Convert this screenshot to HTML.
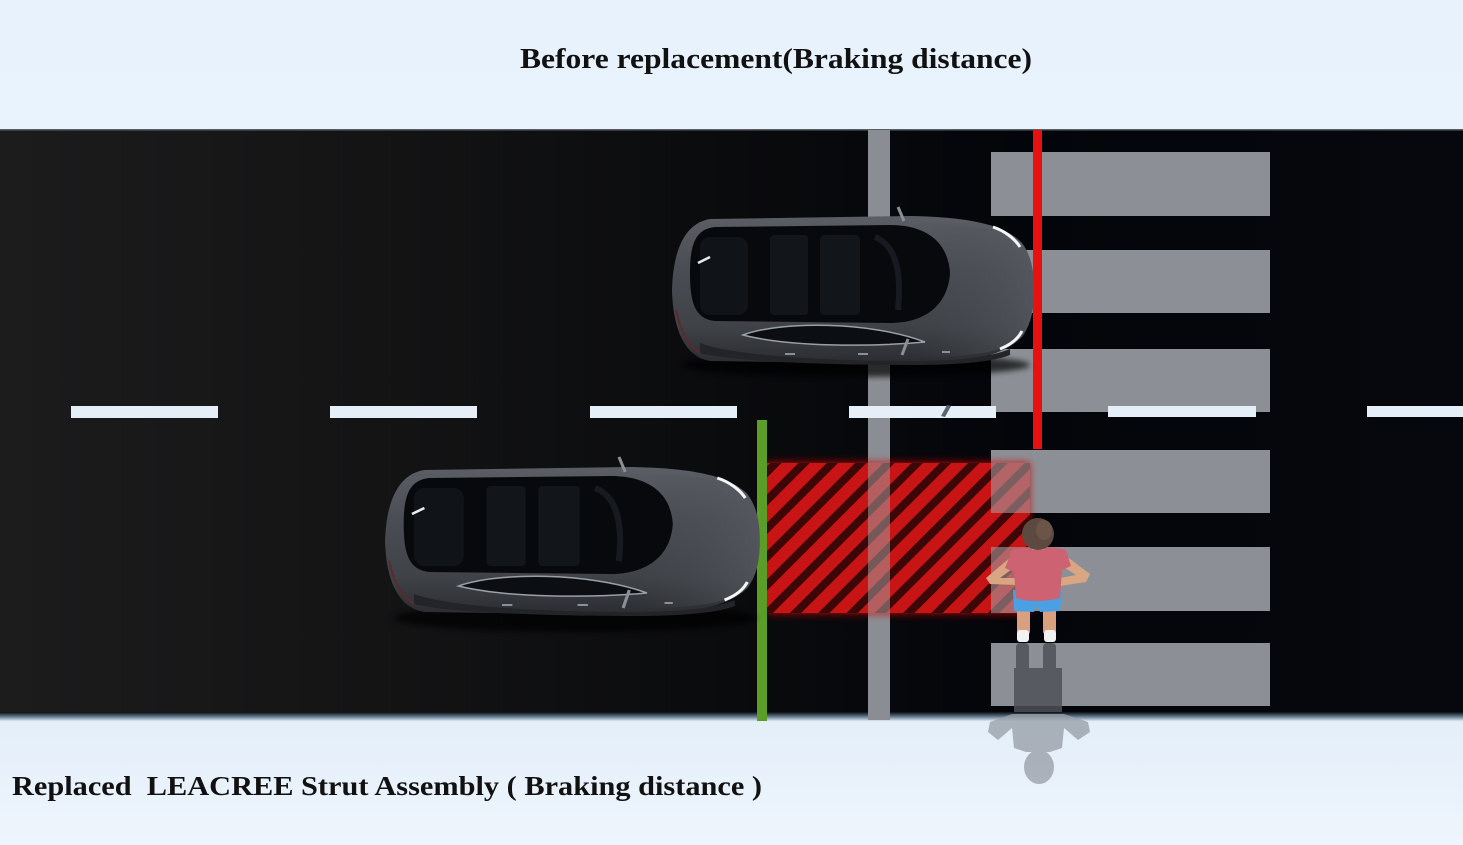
<!DOCTYPE html>
<html>
<head>
<meta charset="utf-8">
<style>
  html,body{margin:0;padding:0;background:#e9f3fd;}
  body{width:1463px;height:845px;overflow:hidden;}
  svg{display:block;}
</style>
</head>
<body>
<svg width="1463" height="845" viewBox="0 0 1463 845" xmlns="http://www.w3.org/2000/svg">
  <defs>
    <linearGradient id="sky" x1="0" y1="0" x2="0" y2="1">
      <stop offset="0" stop-color="#e8f2fc"/>
      <stop offset="1" stop-color="#e9f3fd"/>
    </linearGradient>
    <linearGradient id="ground" x1="0" y1="0" x2="0" y2="1">
      <stop offset="0" stop-color="#e3eef9"/>
      <stop offset="1" stop-color="#eef5fd"/>
    </linearGradient>
    <linearGradient id="road" x1="0" y1="0" x2="1" y2="0">
      <stop offset="0" stop-color="#1c1c1d"/>
      <stop offset="0.25" stop-color="#141415"/>
      <stop offset="0.5" stop-color="#0a0b0d"/>
      <stop offset="0.7" stop-color="#03050a"/>
      <stop offset="1" stop-color="#06080d"/>
    </linearGradient>
    <linearGradient id="roadEdge" x1="0" y1="0" x2="0" y2="1">
      <stop offset="0" stop-color="#0a0d12"/>
      <stop offset="0.5" stop-color="#5f7789"/>
      <stop offset="1" stop-color="#d9e6f2"/>
    </linearGradient>
    <linearGradient id="body" x1="0" y1="0" x2="0" y2="1">
      <stop offset="0" stop-color="#5b5f65"/>
      <stop offset="0.35" stop-color="#4a4e54"/>
      <stop offset="0.75" stop-color="#3f4247"/>
      <stop offset="1" stop-color="#2a2c30"/>
    </linearGradient>
    <linearGradient id="hood" x1="0" y1="0" x2="1" y2="0">
      <stop offset="0" stop-color="#44484e" stop-opacity="0"/>
      <stop offset="1" stop-color="#5a5e64" stop-opacity="0.6"/>
    </linearGradient>
    <pattern id="hatch" patternUnits="userSpaceOnUse" width="20" height="20" patternTransform="rotate(45)">
      <rect x="0" y="0" width="20" height="20" fill="#3e0707"/>
      <rect x="0" y="0" width="12" height="20" fill="#c81414"/>
    </pattern>
    <filter id="glow" x="-20%" y="-20%" width="140%" height="140%">
      <feGaussianBlur stdDeviation="4"/>
    </filter>
    <filter id="soft" x="-20%" y="-20%" width="140%" height="140%">
      <feGaussianBlur stdDeviation="3"/>
    </filter>
  </defs>

  <!-- background -->
  <rect x="0" y="0" width="1463" height="132" fill="url(#sky)"/>
  <rect x="0" y="712" width="1463" height="133" fill="url(#ground)"/>

  <!-- road -->
  <rect x="0" y="130" width="1463" height="584" fill="url(#road)"/>
  <rect x="0" y="129" width="1463" height="1.5" fill="#5a5e63"/>
  <rect x="0" y="712" width="1463" height="9" fill="url(#roadEdge)"/>

  <!-- gray vertical stop stripe -->
  <rect x="868" y="130" width="22" height="590" fill="#8a8e94"/>

  <!-- crosswalk -->
  <g fill="#8c9096">
    <rect x="991" y="152" width="279" height="64"/>
    <rect x="991" y="250" width="279" height="63"/>
    <rect x="991" y="349" width="279" height="63"/>
    <rect x="991" y="450" width="279" height="63"/>
    <rect x="991" y="547" width="279" height="64"/>
    <rect x="991" y="643" width="279" height="63"/>
  </g>

  <!-- lane dashes (on top of markings) -->
  <g fill="#e6eef8">
    <rect x="71" y="406" width="147" height="12"/>
    <rect x="330" y="406" width="147" height="12"/>
    <rect x="590" y="406" width="147" height="12"/>
    <rect x="849" y="406" width="147" height="12"/>
    <rect x="1108" y="406" width="148" height="11"/>
    <rect x="1367" y="406" width="96" height="11"/>
  </g>
  <path d="M941,416 L947,405 L951,406 L945,417 Z" fill="#5a6470"/>

  <!-- hatched braking zone -->
  <rect x="767" y="462" width="263" height="152" fill="#d01010" opacity="0.75" filter="url(#glow)"/>
  <rect x="767" y="463" width="263" height="150" fill="url(#hatch)"/>
  <rect x="868" y="463" width="22" height="150" fill="#a49a9c" opacity="0.55"/>
  <rect x="991" y="463" width="39" height="50" fill="#a49a9c" opacity="0.6"/>
  <rect x="991" y="547" width="39" height="66" fill="#a49a9c" opacity="0.6"/>

  <!-- red line -->
  <rect x="1033" y="130" width="9" height="319" fill="#e81010"/>
  <!-- green line -->
  <rect x="757" y="420" width="10" height="301" fill="#5a9e28"/>

  <!-- TOP CAR -->
  <g transform="translate(670,215)">
    <ellipse cx="185" cy="150" rx="175" ry="12" fill="#000" opacity="0.7" filter="url(#soft)"/>
    <path d="M40,4 C15,8 3,35 2,75 C3,115 15,142 40,146 L240,149 C300,148 335,140 352,122 C362,108 364,92 364,75 C364,58 362,42 352,28 C335,10 300,2 240,1 Z" fill="url(#body)"/>
    <path d="M240,8 C300,8 335,14 352,28 C362,42 364,58 364,75 C364,92 362,108 352,122 C335,138 300,142 240,142 Z" fill="url(#hood)"/>
    <path d="M30,128 C60,140 150,146 240,146 C290,146 320,142 340,134 L340,140 C320,148 280,150 240,150 C150,150 60,146 30,138 Z" fill="#222428"/>
    <path d="M45,12 C25,14 20,30 20,58 C20,88 25,104 45,106 L220,108 C255,108 278,90 280,58 C278,26 255,10 220,10 Z" fill="#07090c"/>
    <rect x="30" y="22" width="48" height="78" rx="10" fill="#101318"/>
    <rect x="100" y="20" width="38" height="80" rx="4" fill="#12151a"/>
    <rect x="150" y="20" width="40" height="80" rx="4" fill="#12151a"/>
    <path d="M205,22 C225,30 232,55 228,95" stroke="#171b21" stroke-width="6" fill="none"/>
    <path d="M73,120 C110,106 200,106 255,127 C200,132 120,132 73,120 Z" fill="#0c0e12" stroke="#9aa0a8" stroke-width="1.5"/>
    <path d="M323,12 C335,16 345,24 350,32" stroke="#f4f6f8" stroke-width="3" fill="none"/>
    <path d="M330,134 C340,130 348,124 352,116" stroke="#f4f6f8" stroke-width="3" fill="none"/>
    <path d="M28,48 L40,42" stroke="#e8ecf0" stroke-width="2.5"/>
    <path d="M6,95 C10,115 18,130 30,138" stroke="#5a2a2e" stroke-width="2" fill="none"/>
    <path d="M228,-8 L234,6" stroke="#8a9096" stroke-width="3"/>
    <path d="M238,124 L232,140" stroke="#8a9096" stroke-width="3"/>
    <g fill="#8a9096"><rect x="115" y="138" width="10" height="2"/><rect x="188" y="138" width="10" height="2"/><rect x="272" y="136" width="8" height="2"/></g>
  </g>

  <!-- BOTTOM CAR -->
  <g transform="translate(383,466) scale(1.035,1)">
    <ellipse cx="185" cy="152" rx="175" ry="14" fill="#000" opacity="0.7" filter="url(#soft)"/>
    <path d="M40,4 C15,8 3,35 2,75 C3,115 15,142 40,146 L240,149 C300,148 335,140 352,122 C362,108 364,92 364,75 C364,58 362,42 352,28 C335,10 300,2 240,1 Z" fill="url(#body)"/>
    <path d="M240,8 C300,8 335,14 352,28 C362,42 364,58 364,75 C364,92 362,108 352,122 C335,138 300,142 240,142 Z" fill="url(#hood)"/>
    <path d="M30,128 C60,140 150,146 240,146 C290,146 320,142 340,134 L340,140 C320,148 280,150 240,150 C150,150 60,146 30,138 Z" fill="#222428"/>
    <path d="M45,12 C25,14 20,30 20,58 C20,88 25,104 45,106 L220,108 C255,108 278,90 280,58 C278,26 255,10 220,10 Z" fill="#07090c"/>
    <rect x="30" y="22" width="48" height="78" rx="10" fill="#101318"/>
    <rect x="100" y="20" width="38" height="80" rx="4" fill="#12151a"/>
    <rect x="150" y="20" width="40" height="80" rx="4" fill="#12151a"/>
    <path d="M205,22 C225,30 232,55 228,95" stroke="#171b21" stroke-width="6" fill="none"/>
    <path d="M73,120 C110,106 200,106 255,127 C200,132 120,132 73,120 Z" fill="#0c0e12" stroke="#9aa0a8" stroke-width="1.5"/>
    <path d="M323,12 C335,16 345,24 350,32" stroke="#f4f6f8" stroke-width="3" fill="none"/>
    <path d="M330,134 C340,130 348,124 352,116" stroke="#f4f6f8" stroke-width="3" fill="none"/>
    <path d="M28,48 L40,42" stroke="#e8ecf0" stroke-width="2.5"/>
    <path d="M6,95 C10,115 18,130 30,138" stroke="#5a2a2e" stroke-width="2" fill="none"/>
    <path d="M228,-9 L234,6" stroke="#8a9096" stroke-width="3"/>
    <path d="M238,124 L232,142" stroke="#8a9096" stroke-width="3"/>
    <g fill="#8a9096"><rect x="115" y="138" width="10" height="2"/><rect x="188" y="138" width="10" height="2"/><rect x="272" y="136" width="8" height="2"/></g>
  </g>

  <!-- pedestrian shadow -->
  <g fill="#4e5258" opacity="0.85">
    <rect x="1016" y="643" width="13" height="30" rx="4"/>
    <rect x="1043" y="643" width="13" height="30" rx="4"/>
    <path d="M1014,668 L1062,668 L1062,712 L1014,712 Z"/>
  </g>
  <g fill="#9aa1aa" opacity="0.8">
    <path d="M1012,714 L1064,714 L1088,722 L1090,732 L1078,740 L1064,728 L1062,748 L1050,752 L1026,752 L1014,748 L1012,728 L998,740 L988,732 L990,722 Z"/>
    <ellipse cx="1039" cy="767" rx="15" ry="17"/>
  </g>

  <!-- pedestrian -->
  <g>
    <rect x="1017" y="606" width="13" height="30" rx="5" fill="#d9a07e"/>
    <rect x="1043" y="606" width="13" height="30" rx="5" fill="#d9a07e"/>
    <rect x="1017" y="630" width="12" height="12" rx="3" fill="#f2f2f2"/>
    <rect x="1044" y="630" width="12" height="12" rx="3" fill="#f2f2f2"/>
    <path d="M1012,556 L986,578 L990,584 L1016,585 L1016,578 L1000,578 L1016,566 Z" fill="#d9a583"/>
    <path d="M1066,556 L1090,574 L1086,582 L1060,586 L1060,578 L1076,575 L1062,566 Z" fill="#d9a583"/>
    <path d="M1013,590 L1062,590 L1060,611 L1040,612 L1037,606 L1034,612 L1014,611 Z" fill="#4aa0e2"/>
    <path d="M1012,550 C1025,546 1052,546 1066,550 L1071,566 L1062,570 L1060,598 C1045,602 1028,602 1016,598 L1014,572 L1005,568 Z" fill="#cc6272"/>
    <rect x="1032" y="544" width="12" height="6" fill="#c8957a"/>
    <ellipse cx="1038" cy="534" rx="16" ry="16" fill="#5c4a40"/>
    <ellipse cx="1044" cy="530" rx="8" ry="10" fill="#6a5548"/>
  </g>

  <!-- texts -->
  <text x="520" y="68" font-family="'Liberation Serif', 'DejaVu Serif', serif" font-weight="bold" font-size="29" fill="#111" textLength="512" lengthAdjust="spacingAndGlyphs">Before replacement(Braking distance)</text>
  <text x="12" y="795" font-family="'Liberation Serif', 'DejaVu Serif', serif" font-weight="bold" font-size="27" fill="#111" textLength="750" lengthAdjust="spacingAndGlyphs" style="white-space:pre" xml:space="preserve">Replaced  LEACREE Strut Assembly ( Braking distance )</text>
</svg>
</body>
</html>
